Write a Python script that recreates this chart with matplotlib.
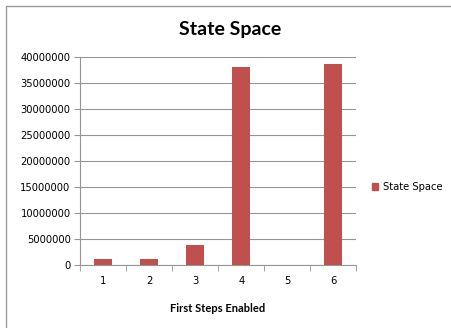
import matplotlib.pyplot as plt
from matplotlib.patches import Rectangle

categories = ["1", "2", "3", "4", "5", "6"]
state_space = [1300000, 1300000, 3900000, 38100000, 0, 38700000]
yticks = [0, 5000000, 10000000, 15000000, 20000000, 25000000, 30000000, 35000000, 40000000]

bar_color = "#C0504D"
grid_color = "#959595"

fig = plt.figure(figsize=(4.51, 3.28), dpi=100)
fig.patches.append(Rectangle((6 / 451, -0.1), 1.2, (328 - 6) / 328 + 0.1,
                             transform=fig.transFigure, fill=False,
                             edgecolor="#9a9a9a", linewidth=1))

ax = fig.add_axes([80.3 / 451, 1 - 265.3 / 328, 276 / 451, 208 / 328])
x = list(range(len(categories)))
ax.bar(x, state_space, width=0.39, color=bar_color, label="State Space", zorder=3)

ax.set_xlim(-0.5, len(categories) - 0.5)
ax.set_ylim(0, 40000000)
ax.set_yticks(yticks)
ax.set_yticklabels([str(v) for v in yticks], fontsize=7.2)
ax.set_xticks(x)
ax.set_xticklabels(categories, fontsize=7.2)
ax.tick_params(axis="x", length=0, pad=8)
ax.tick_params(axis="y", length=4, color=grid_color, pad=3)
# category boundary ticks on x axis
ax.set_xticks([i - 0.5 for i in range(len(categories) + 1)], minor=True)
ax.tick_params(axis="x", which="minor", length=4, color=grid_color)

ax.grid(axis="y", color=grid_color, linewidth=0.8, zorder=0)
for s in ["top", "right"]:
    ax.spines[s].set_visible(False)
for s in ["left", "bottom"]:
    ax.spines[s].set_color(grid_color)
    ax.spines[s].set_linewidth(0.8)

fig.text(230 / 451, 1 - 30 / 328, "State Space", ha="center", va="center",
         fontsize=14, fontweight="bold", family="Lato")
fig.text(218 / 451, 1 - 308 / 328, "First Steps Enabled", ha="center", va="center",
         fontsize=8, fontweight="bold", family="Lato")

handle = Rectangle((0, 0), 1, 1, color=bar_color)
fig.legend([handle], ["State Space"], loc="center left",
           bbox_to_anchor=(372 / 451, 1 - 187 / 328), frameon=False,
           fontsize=7.2, handlelength=0.6, handleheight=0.6, handletextpad=0.5,
           borderpad=0, borderaxespad=0)

fig.savefig("out.png", dpi=100)
